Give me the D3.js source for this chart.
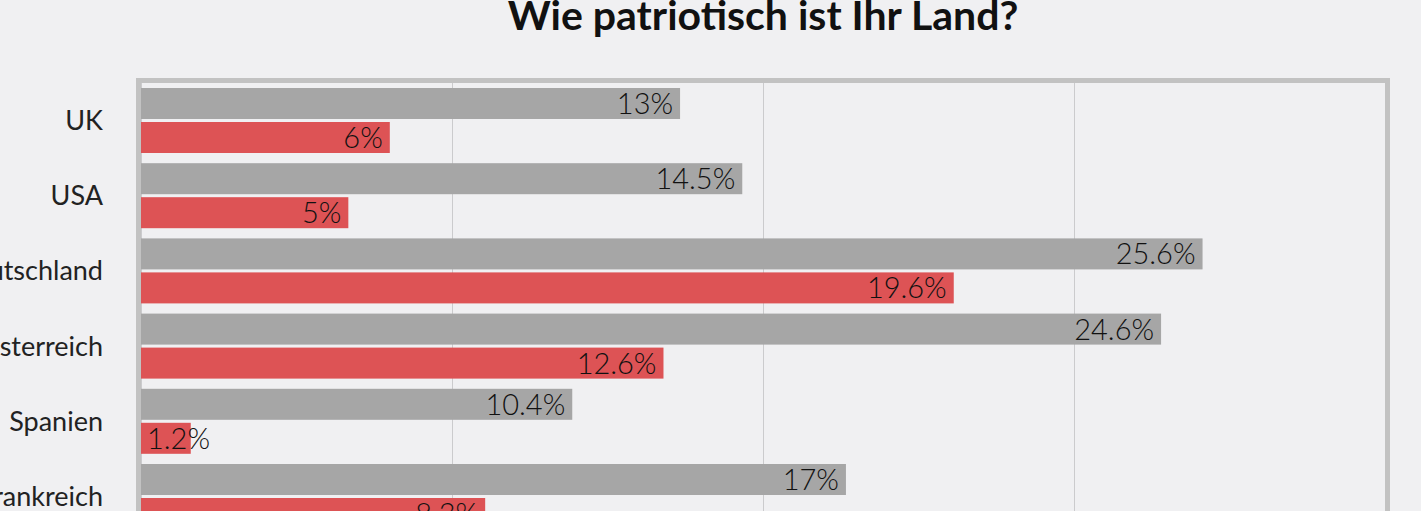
<!DOCTYPE html>
<html>
<head>
<meta charset="utf-8">
<script src="https://cdn.jsdelivr.net/npm/d3@7"></script>
<style>
  html, body { margin: 0; padding: 0; background: #f0f0f2; overflow: hidden; }
  svg { display: block; font-family: Lato, "Noto Sans", sans-serif; }
</style>
</head>
<body>
<div id="chart"></div>
<script>
// Daten
const laender = ["UK", "USA", "Deutschland", "Österreich", "Spanien", "Frankreich"];
const grau = [13, 14.5, 25.6, 24.6, 10.4, 17];
const rot = [6, 5, 19.6, 12.6, 1.2, 8.3];
const gridTicks = [0, 7.5, 15, 22.5, 30];

const width = 1421, height = 511;
const plot = { left: 141, right: 1385, top: 83 };
const step = 75.2;

const svg = d3.select("#chart")
    .append("svg")
    .attr("width", width)
    .attr("height", height);

const x = d3.scaleLinear()
    .domain([0, 30])
    .range([plot.left, plot.right]);

const y = d3.scaleBand()
    .domain(laender)
    .range([plot.top, plot.top + step * laender.length])
    .paddingInner(0)
    .paddingOuter(0);

// Titel
svg.append("text")
    .attr("x", (136 + 1390) / 2)
    .attr("y", 30)
    .attr("text-anchor", "middle")
    .style("font-size", "41px")
    .style("font-weight", "bold")
    .attr("fill", "#111")
    .text("Wie patriotisch ist Ihr Land?");

// Gitterlinien
svg.selectAll("line.grid")
    .data(gridTicks)
    .enter()
    .append("line")
    .attr("class", "grid")
    .attr("x1", d => x(d) + 0.5)
    .attr("x2", d => x(d) + 0.5)
    .attr("y1", plot.top)
    .attr("y2", height + 20)
    .attr("stroke", "#cbcbcd")
    .attr("stroke-width", 1);

// Rahmen
svg.append("rect")
    .attr("x", plot.left - 2.5)
    .attr("y", plot.top - 2.5)
    .attr("width", plot.right - plot.left + 5)
    .attr("height", 1000)
    .attr("fill", "none")
    .attr("stroke", "#c2c2c2")
    .attr("stroke-width", 5);

// Länder-Beschriftung
svg.selectAll("text.land")
    .data(laender)
    .enter()
    .append("text")
    .attr("class", "land")
    .attr("x", 103)
    .attr("y", d => y(d) + y.bandwidth() / 2)
    .attr("dy", "0.35em")
    .attr("text-anchor", "end")
    .style("font-size", "27px")
    .attr("fill", "#222")
    .text(d => d);

const barH = 31, pad = 5, gap = 3;

const serien = [
    { werte: grau, farbe: "#a6a6a6", offset: pad },
    { werte: rot, farbe: "#dd5355", offset: pad + barH + gap }
];

serien.forEach(s => {
    const g = svg.append("g");
    const rows = laender.map((land, i) => ({ land, wert: s.werte[i] }));

    g.selectAll("rect")
        .data(rows)
        .enter()
        .append("rect")
        .attr("x", x(0))
        .attr("y", d => y(d.land) + s.offset)
        .attr("width", d => x(d.wert) - x(0))
        .attr("height", barH)
        .attr("fill", s.farbe);

    g.selectAll("text")
        .data(rows)
        .enter()
        .append("text")
        .attr("x", d => x(d.wert) - 7)
        .attr("y", d => y(d.land) + s.offset + barH / 2)
        .attr("dy", "0.36em")
        .attr("text-anchor", "end")
        .style("font-size", "29px")
        .style("font-weight", "300")
        .attr("fill", "#111")
        .text(d => d.wert + "%")
        .each(function (d) {
            const w = this.getComputedTextLength();
            if (w + 14 > x(d.wert) - x(0)) {
                d3.select(this)
                    .attr("x", x(0) + 6)
                    .attr("text-anchor", "start");
            }
        });
});
</script>
</body>
</html>
